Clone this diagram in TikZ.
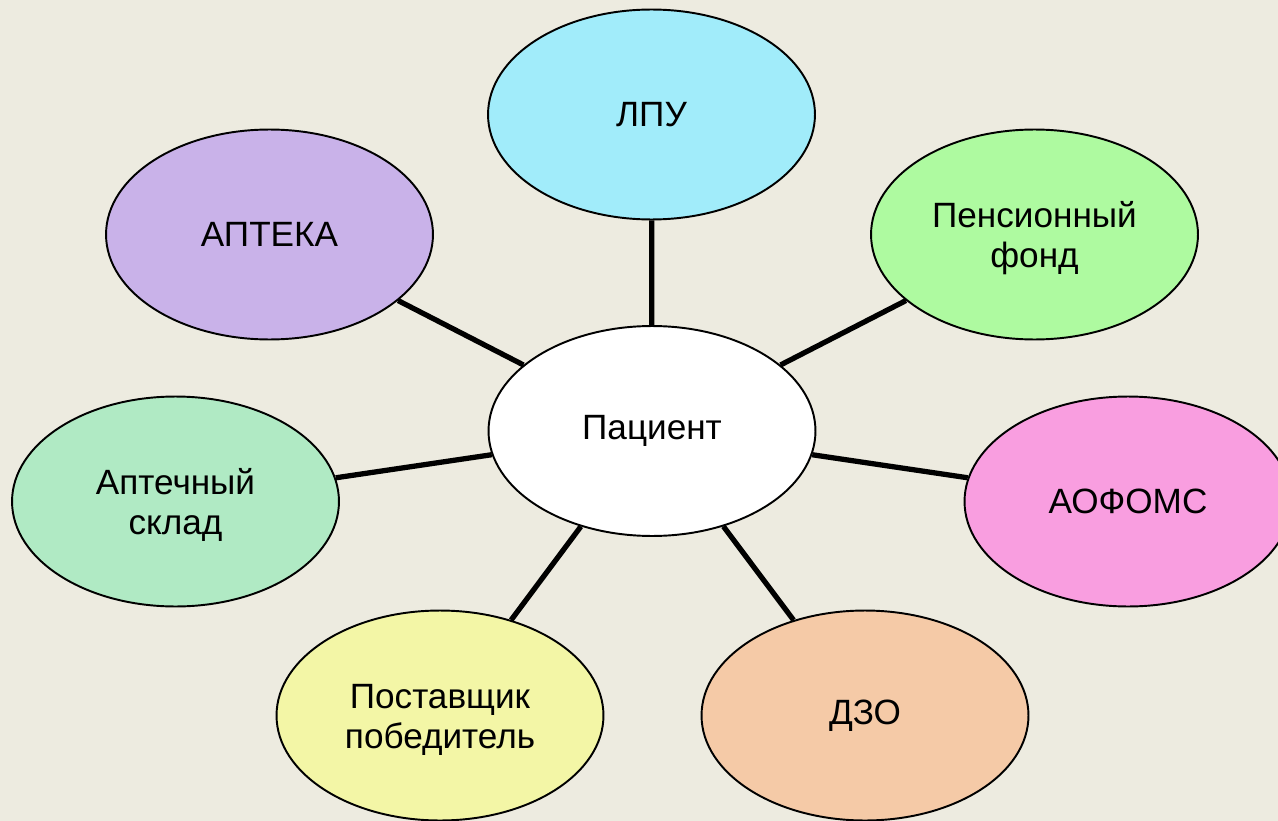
\documentclass[tikz,border=0pt]{standalone}
\usepackage{fontspec}
\setmainfont{Liberation Sans}
\usepackage{tikz}
\usetikzlibrary{shapes.geometric}
\usepackage{xcolor}

\definecolor{bgbeige}{RGB}{237,235,224}
\definecolor{lpucyan}{RGB}{161,236,250}
\definecolor{aptlilac}{RGB}{201,178,233}
\definecolor{pfgreen}{RGB}{174,250,160}
\definecolor{fomspink}{RGB}{249,158,224}
\definecolor{skladmint}{RGB}{176,234,196}
\definecolor{postyellow}{RGB}{243,246,166}
\definecolor{dzopeach}{RGB}{245,202,167}

\begin{document}
\begin{tikzpicture}[x=0.02cm, y=-0.02cm,
    bubble/.style={draw, ellipse, line width=1.1pt, minimum width=6.54cm,
                   minimum height=4.2cm, inner sep=0pt, align=center,
                   font=\fontsize{20}{23}\selectfont},
    twoline/.style={text height=42.5pt, text depth=4.5pt},
    link/.style={line width=3pt}]
          % background
          \fill[bgbeige] (0,0) rectangle (1278,821);
          \useasboundingbox (0,0) rectangle (1278,821);
          \clip (0,0) rectangle (1278,821);
          % centre
          \node[bubble, fill=white] (pac) at (652,431) {Пациент};
          % outer ring
          \node[bubble, fill=lpucyan] (lpu) at (651.5,114.5) {ЛПУ};
          \node[bubble, fill=aptlilac] (apteka) at (269.5,234.5) {АПТЕКА};
          \node[bubble, twoline, fill=pfgreen] (pfond) at (1034.5,234.5) {Пенсионный\\фонд};
          \node[bubble, twoline, fill=skladmint] (sklad) at (175.5,501.5) {Аптечный\\склад};
          \node[bubble, fill=fomspink] (aofoms) at (1128,501.5) {АОФОМС};
          \node[bubble, twoline, fill=postyellow] (postav) at (440,715.5) {Поставщик\\победитель};
          \node[bubble, fill=dzopeach] (dzo) at (865,715.5) {ДЗО};
          % spokes
          \draw[link] (pac) -- (lpu);
          \draw[link] (pac) -- (apteka);
          \draw[link] (pac) -- (pfond);
          \draw[link] (pac) -- (sklad);
          \draw[link] (pac) -- (aofoms);
          \draw[link] (pac) -- (postav);
          \draw[link] (pac) -- (dzo);
        \end{tikzpicture}
\end{document}
